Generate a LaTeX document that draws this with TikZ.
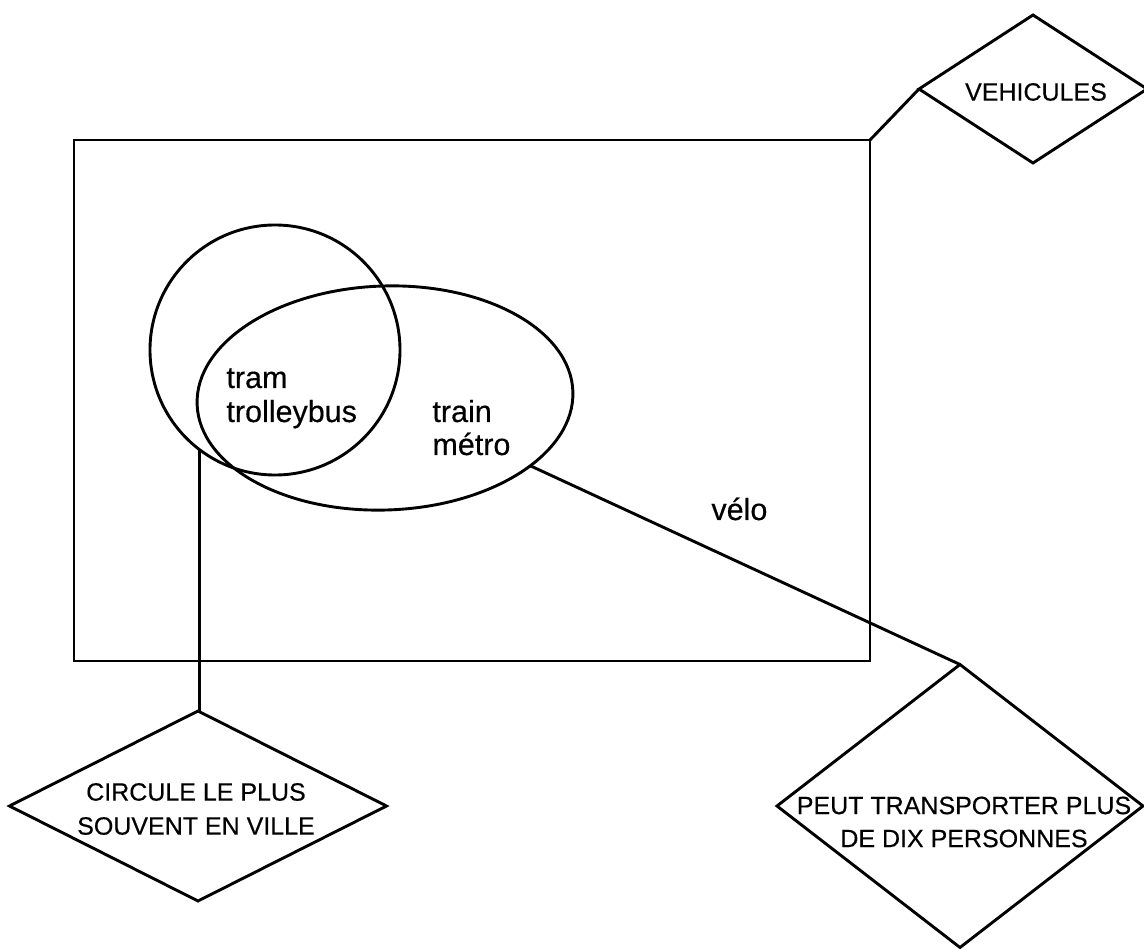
\documentclass[tikz,border=0pt]{standalone}
\usepackage{fontspec}
\setmainfont{Liberation Sans}[FakeBold=0.4]
\usetikzlibrary{shapes.geometric}
\begin{document}
\begin{tikzpicture}[x=1pt,y=-1pt,
  every path/.style={line width=2.9pt, line join=miter},
  dia/.style={draw, shape=diamond, inner sep=0pt, outer sep=0pt},
  caps/.style={font=\fontsize{25}{34}\selectfont, align=center, inner sep=0pt},
  lower/.style={font=\fontsize{30.5}{34}\selectfont, inner sep=0pt, anchor=base west}]
\useasboundingbox (0,0) rectangle (1144,949);
% universe rectangle
\node[draw, rectangle, inner sep=0pt, outer sep=0pt, minimum width=796pt, minimum height=521pt, anchor=north west] (univ) at (74,140) {};
% sets
\node[draw, circle, inner sep=0pt, outer sep=0pt, minimum size=250pt] (circ) at (275,350) {};
\node[draw, ellipse, inner sep=0pt, outer sep=0pt, minimum width=376pt, minimum height=224pt, rotate=2] (ell) at (385,398) {};
% diamonds
\node[dia, minimum width=228pt, minimum height=148pt] (veh) at (1033,89) {};
\node[caps] (vehtxt) at (1036,92) {VEHICULES};
\node[dia, minimum width=377pt, minimum height=190pt] (ville) at (198,806) {};
\node[caps] (villetxt) at (196,809) {CIRCULE LE PLUS\\SOUVENT EN VILLE};
\node[dia, minimum width=366pt, minimum height=283pt] (pers) at (960,806) {};
\node[caps, font=\fontsize{25}{33}\selectfont] (perstxt) at (964,822) {PEUT TRANSPORTER PLUS\\DE DIX PERSONNES};
% element labels
\node[lower] (tram) at (225,388) {tram};
\node[lower] (trol) at (225,422) {trolleybus};
\node[lower] (train) at (431,422) {train};
\node[lower] (metro) at (431,455) {métro};
\node[lower] (velo) at (710,520) {vélo};
% connectors
\draw (univ.north east) -- (veh.west);
\draw (circ.233) -- (circ.233 |- ville.north);
\draw (ell.333) -- (pers.north);
\end{tikzpicture}
\end{document}
